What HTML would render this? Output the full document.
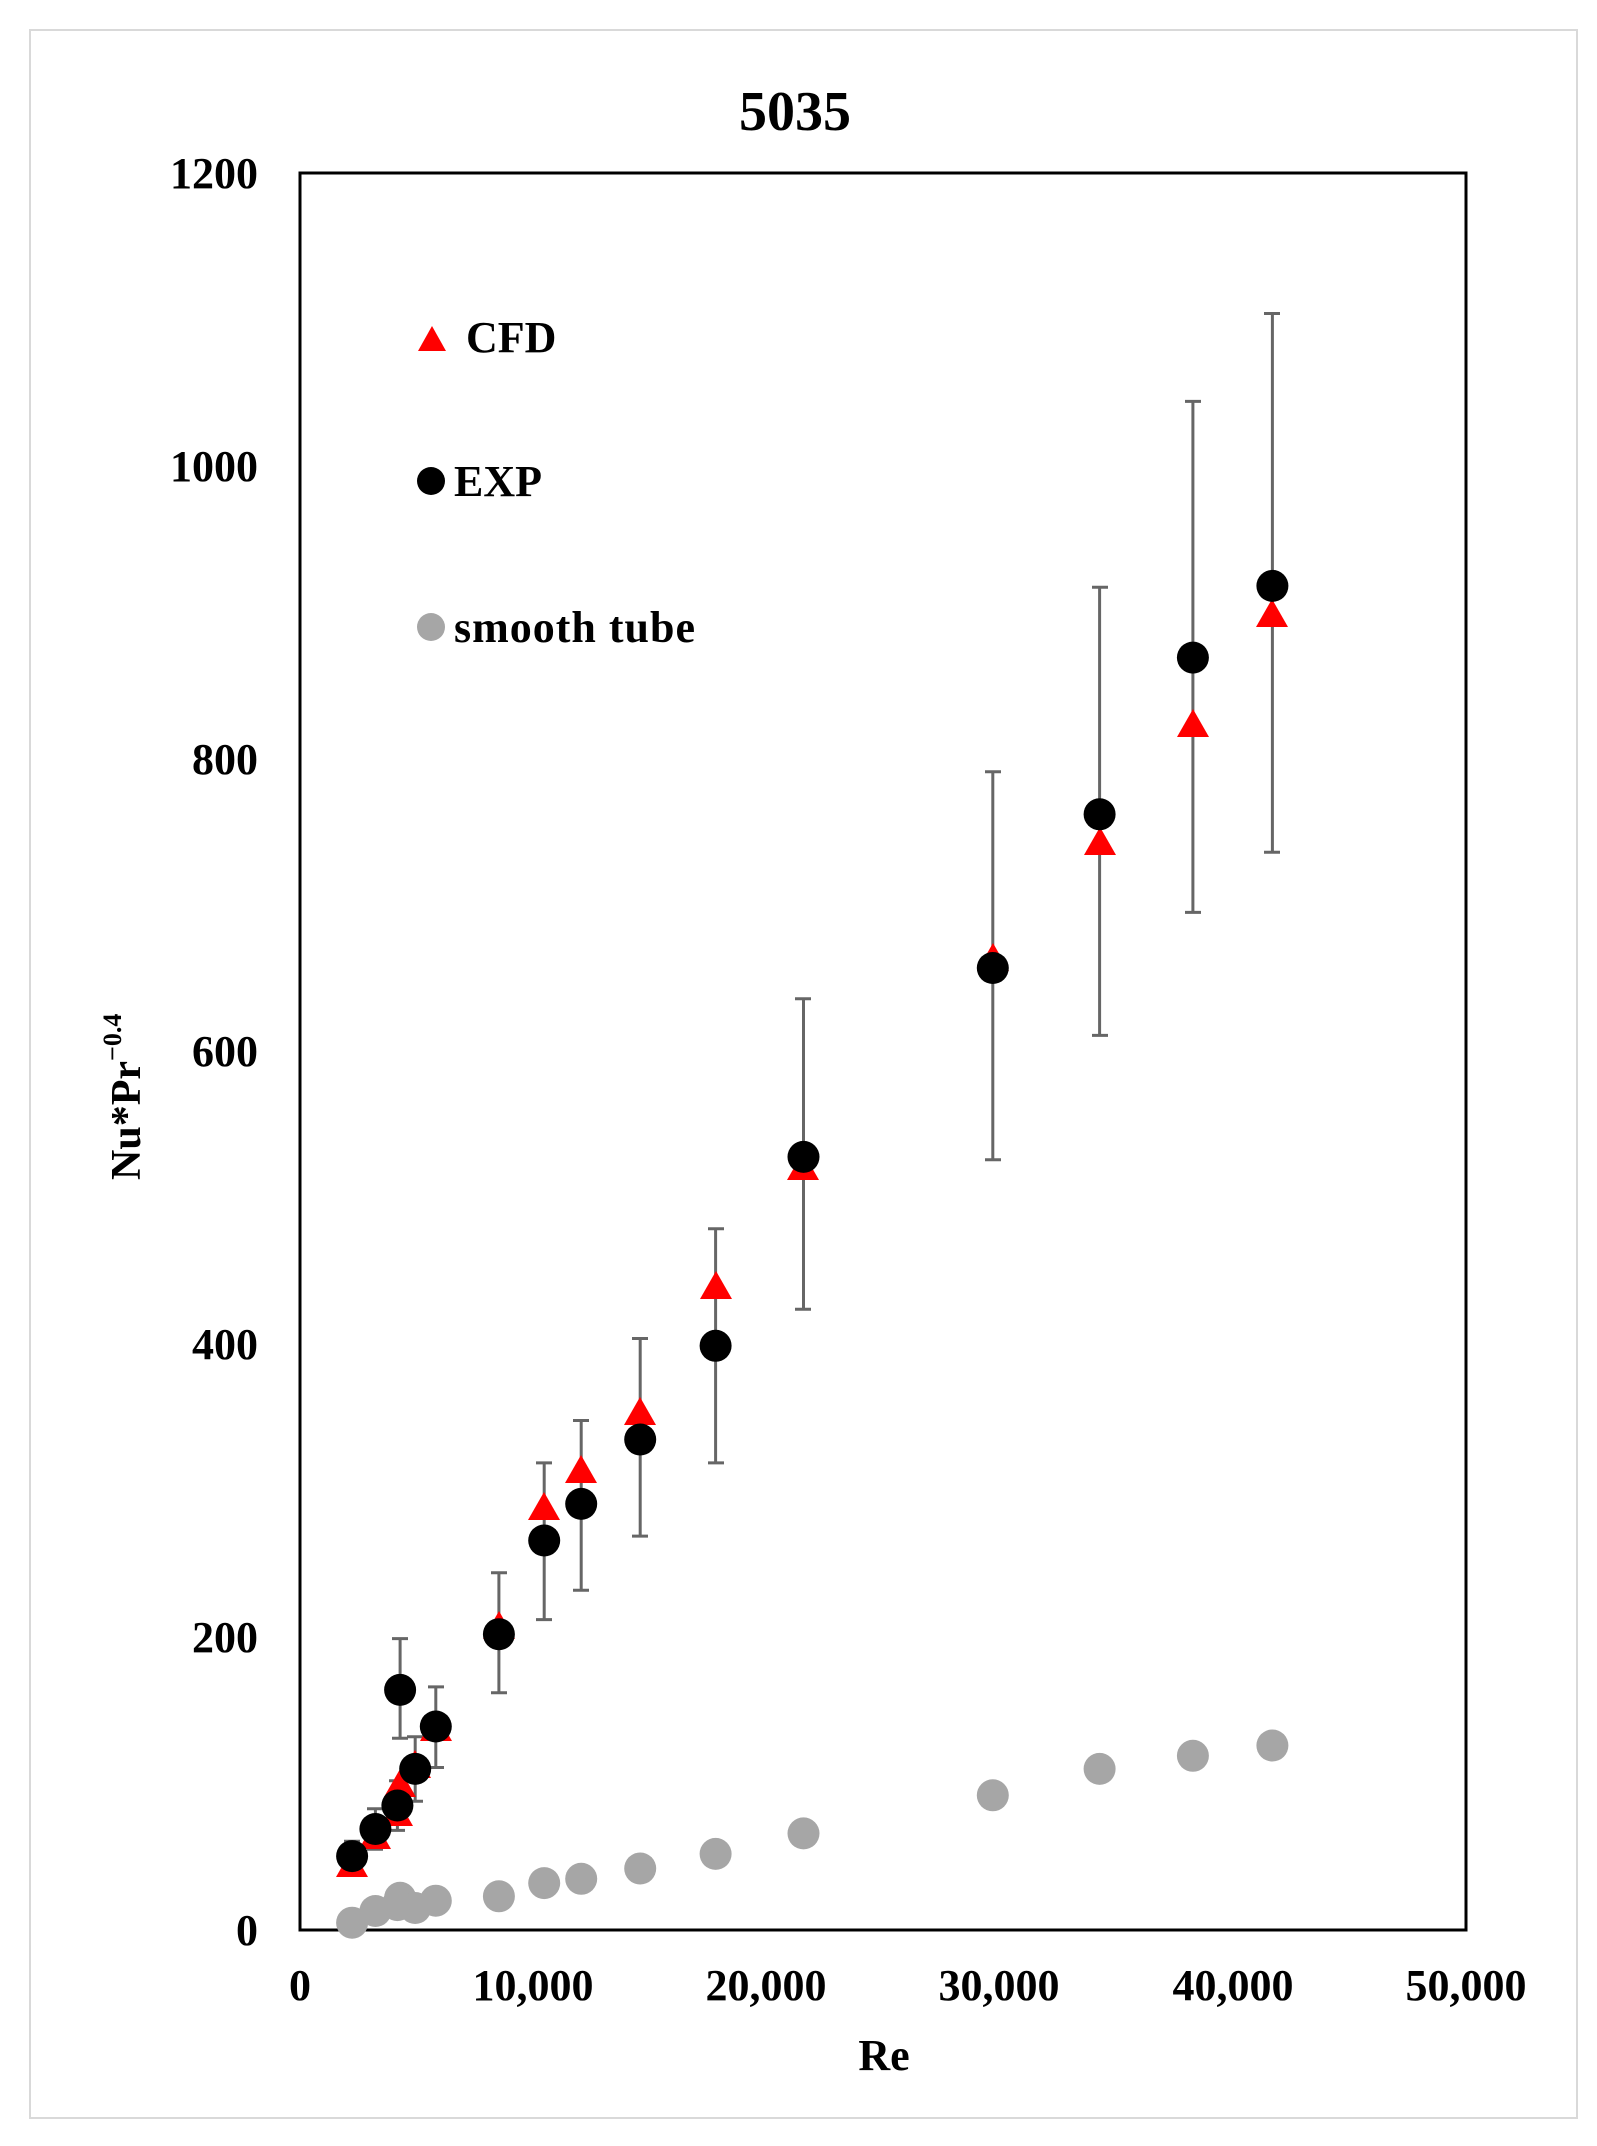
<!DOCTYPE html>
<html><head><meta charset="utf-8"><style>
html,body{margin:0;padding:0;background:#fff}
svg{display:block}
text{font-family:"Liberation Serif",serif;font-weight:bold;fill:#000}
</style></head><body>
<svg width="1597" height="2146" viewBox="0 0 1597 2146" xmlns="http://www.w3.org/2000/svg">
<rect x="30" y="30" width="1547" height="2088" fill="#fff" stroke="#d9d9d9" stroke-width="2"/>
<text x="795" y="130" font-size="56" text-anchor="middle">5035</text>
<rect x="300" y="173" width="1166" height="1757" fill="none" stroke="#000" stroke-width="3"/>
<g font-size="44" text-anchor="end">
<text x="258" y="1945">0</text>
<text x="258" y="1652">200</text>
<text x="258" y="1359">400</text>
<text x="258" y="1066">600</text>
<text x="258" y="774">800</text>
<text x="258" y="481">1000</text>
<text x="258" y="188">1200</text>
</g>
<g font-size="44" text-anchor="middle">
<text x="300" y="2000">0</text>
<text x="533" y="2000">10,000</text>
<text x="766" y="2000">20,000</text>
<text x="999" y="2000">30,000</text>
<text x="1233" y="2000">40,000</text>
<text x="1466" y="2000">50,000</text>
<text x="884" y="2070">Re</text>
</g>
<text transform="translate(140,1180) rotate(-90)" font-size="42">Nu*Pr<tspan font-size="26" dy="-19">−0.4</tspan></text>
<g stroke="#666" stroke-width="3" fill="none">
<path d="M352.1 1870.8V1841.3M344 1870.8h16M344 1841.3h16"/>
<path d="M375.4 1849.2V1808.8M367 1849.2h16M367 1808.8h16"/>
<path d="M397.4 1830.4V1780.7M389 1830.4h16M389 1780.7h16"/>
<path d="M400.1 1738.2V1638.6M392 1738.2h16M392 1638.6h16"/>
<path d="M415.2 1801.2V1736.7M407 1801.2h16M407 1736.7h16"/>
<path d="M435.8 1767.5V1686.9M428 1767.5h16M428 1686.9h16"/>
<path d="M498.9 1692.8V1572.7M491 1692.8h16M491 1572.7h16"/>
<path d="M544.2 1619.6V1462.9M536 1619.6h16M536 1462.9h16"/>
<path d="M581.2 1590.3V1420.5M573 1590.3h16M573 1420.5h16"/>
<path d="M640.2 1536.1V1338.5M632 1536.1h16M632 1338.5h16"/>
<path d="M715.6 1462.9V1228.7M708 1462.9h16M708 1228.7h16"/>
<path d="M803.5 1309.2V998.8M795 1309.2h16M795 998.8h16"/>
<path d="M992.8 1159.8V771.8M985 1159.8h16M985 771.8h16"/>
<path d="M1099.6 1035.4V587.3M1092 1035.4h16M1092 587.3h16"/>
<path d="M1192.9 912.4V401.4M1185 912.4h16M1185 401.4h16"/>
<path d="M1272.4 852.3V313.5M1264 852.3h16M1264 313.5h16"/>
</g>
<g fill="#a6a6a6">
<circle cx="352.1" cy="1922.7" r="16"/><circle cx="375.4" cy="1911" r="16"/>
<circle cx="397.4" cy="1905.1" r="16"/><circle cx="400.1" cy="1897.8" r="16"/>
<circle cx="415.2" cy="1908" r="16"/><circle cx="435.8" cy="1900.7" r="16"/>
<circle cx="498.9" cy="1896.3" r="16"/><circle cx="544.2" cy="1883.1" r="16"/>
<circle cx="581.2" cy="1878.8" r="16"/><circle cx="640.2" cy="1868.5" r="16"/>
<circle cx="715.6" cy="1853.9" r="16"/><circle cx="803.5" cy="1833.4" r="16"/>
<circle cx="992.8" cy="1795.3" r="16"/><circle cx="1099.6" cy="1768.9" r="16"/>
<circle cx="1192.9" cy="1755.8" r="16"/><circle cx="1272.4" cy="1745.5" r="16"/>
</g>
<g fill="#ff0000">
<path d="M336 1877h32l-16-28z"/>
<path d="M359 1849h32l-16-28z"/>
<path d="M381 1826h32l-16-28z"/>
<path d="M384 1797h32l-16-28z"/>
<path d="M399 1778h32l-16-28z"/>
<path d="M420 1741h32l-16-28z"/>
<path d="M483 1639h32l-16-28z"/>
<path d="M528 1520h32l-16-28z"/>
<path d="M565 1483h32l-16-28z"/>
<path d="M624 1425h32l-16-28z"/>
<path d="M700 1299h32l-16-28z"/>
<path d="M787 1180h32l-16-28z"/>
<path d="M977 971h32l-16-28z"/>
<path d="M1084 855h32l-16-28z"/>
<path d="M1177 737h32l-16-28z"/>
<path d="M1256 627h32l-16-28z"/>
</g>
<g fill="#000">
<circle cx="352.1" cy="1856.1" r="16"/><circle cx="375.4" cy="1829" r="16"/>
<circle cx="397.4" cy="1805.5" r="16"/><circle cx="400.1" cy="1689.9" r="16"/>
<circle cx="415.2" cy="1768.9" r="16"/><circle cx="435.8" cy="1726.5" r="16"/>
<circle cx="498.9" cy="1634.2" r="16"/><circle cx="544.2" cy="1540.5" r="16"/>
<circle cx="581.2" cy="1503.9" r="16"/><circle cx="640.2" cy="1439.5" r="16"/>
<circle cx="715.6" cy="1345.8" r="16"/><circle cx="803.5" cy="1156.9" r="16"/>
<circle cx="992.8" cy="968" r="16"/><circle cx="1099.6" cy="814.3" r="16"/>
<circle cx="1192.9" cy="657.6" r="16"/><circle cx="1272.4" cy="585.9" r="16"/>
</g>
<path d="M418 351h28l-14-25z" fill="#ff0000"/>
<text x="466" y="352" font-size="44">CFD</text>
<circle cx="431" cy="481" r="14" fill="#000"/>
<text x="454" y="496" font-size="44">EXP</text>
<circle cx="431" cy="627" r="14" fill="#a6a6a6"/>
<text x="454" y="642" font-size="44" letter-spacing="1">smooth tube</text>
</svg>
</body></html>
